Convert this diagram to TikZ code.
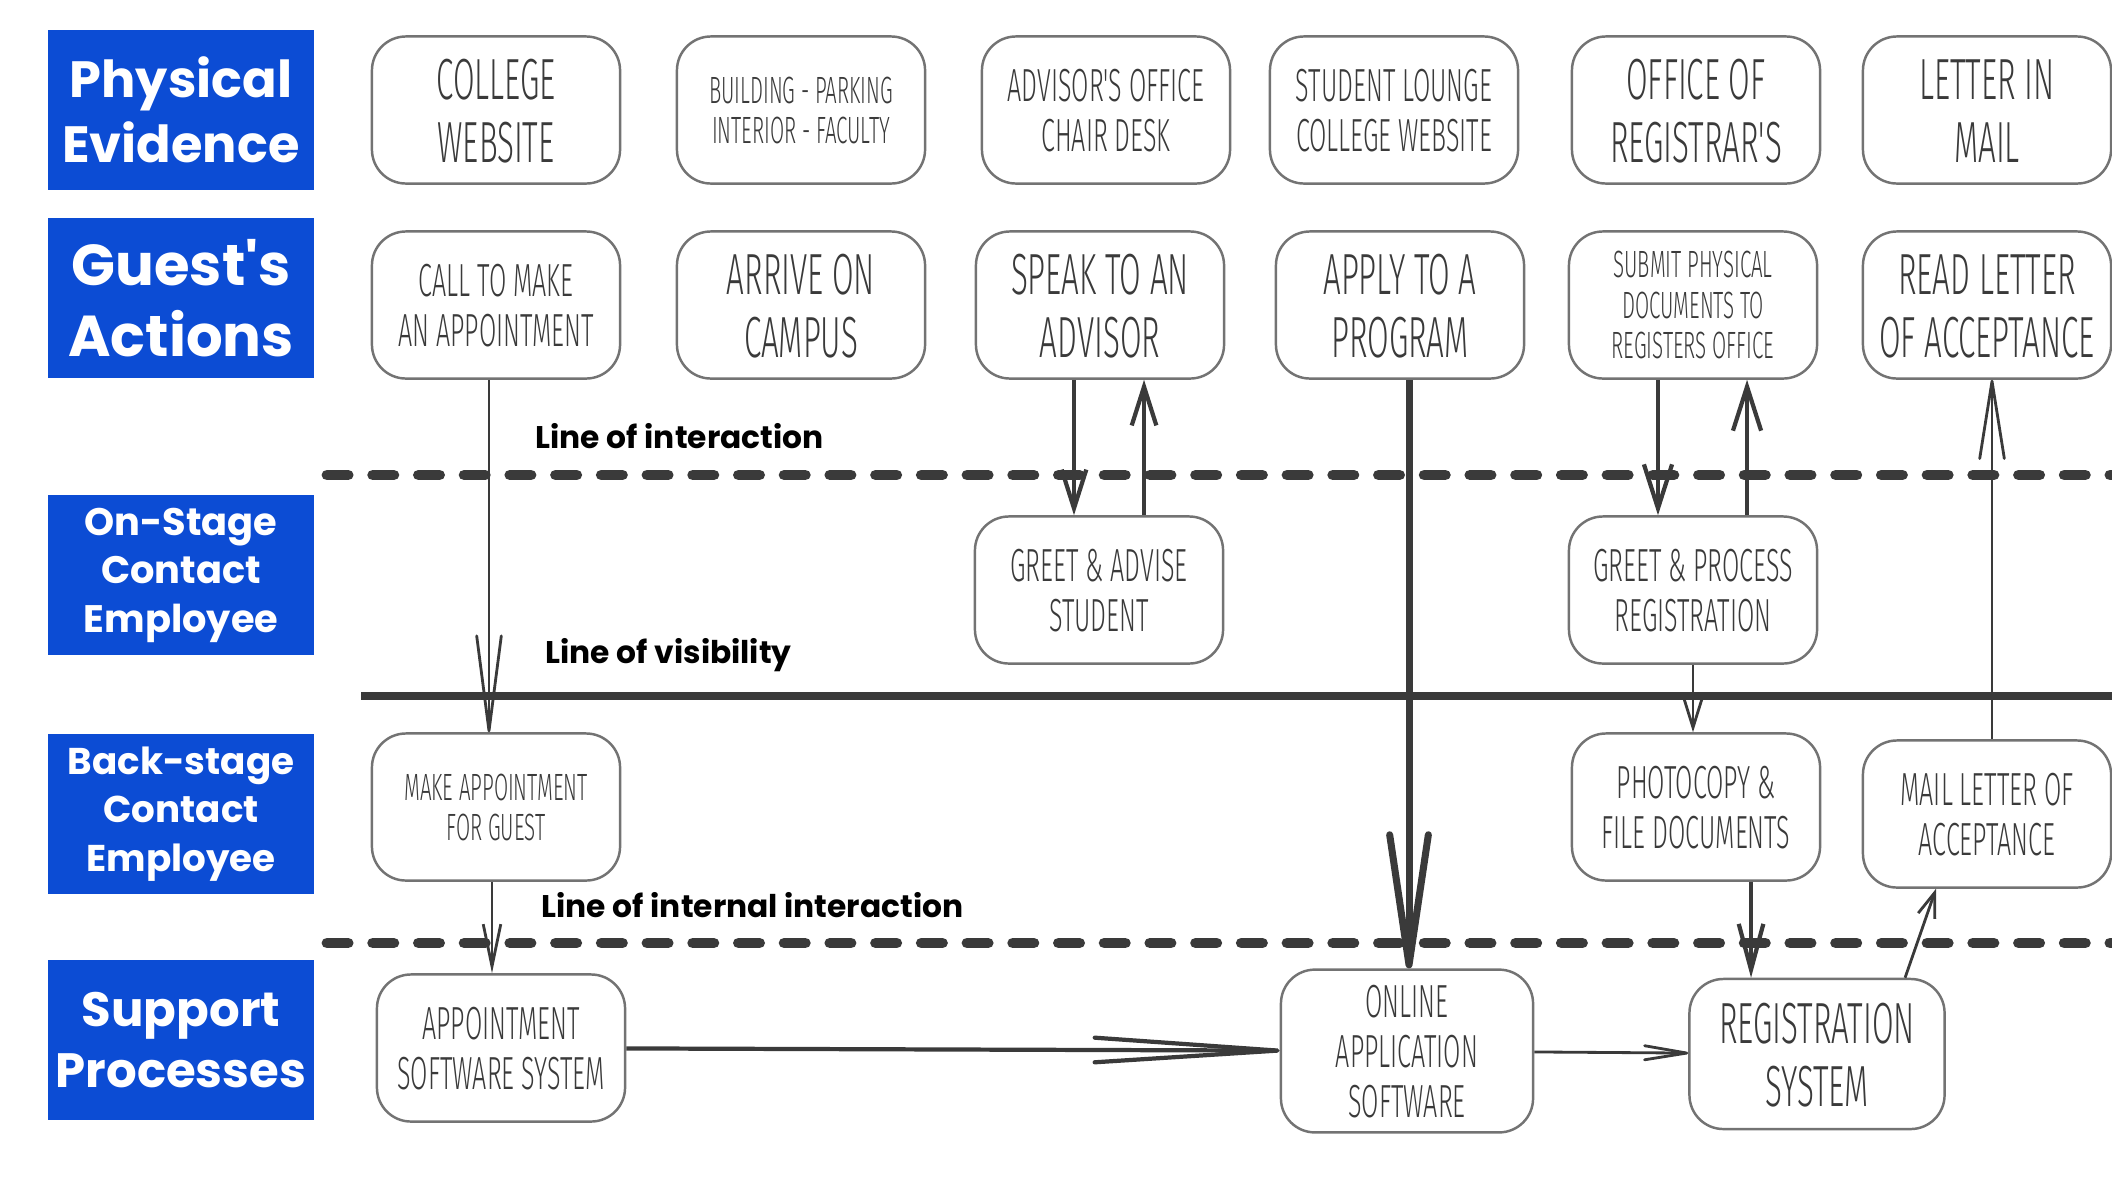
\documentclass[tikz,border=0pt]{standalone}
\usepackage{fontspec}
\usepackage{graphicx}
\usetikzlibrary{arrows.meta}
\newfontfamily\lanefont{Poppins}
\newfontfamily\boxfont{Fira Sans Light}
\definecolor{laneblue}{RGB}{12,76,212}
\definecolor{inkgray}{RGB}{58,58,58}
\newcommand{\lignes}[1]{\raisebox{0pt}[\dimexpr\height+0.28em\relax][\depth]{\scalebox{0.54}[1]{\begin{tabular}{@{}c@{}}#1\end{tabular}}}}

\begin{document}
\begin{tikzpicture}[x=0.01cm,y=-0.01cm]

  % Styles des boites
  \tikzstyle{lane} = [fill=laneblue, text=white, minimum width=2.66cm, minimum height=1.6cm, align=center, inner sep=0pt]
  \tikzstyle{stepbox} = [draw=black!55, line width=0.7pt, rounded corners=0.34cm, fill=white, minimum width=2.48cm, minimum height=1.47cm, text=inkgray, inner sep=0pt]
  \tikzstyle{bigtxt} = [font=\boxfont\fontsize{16.5}{18}\selectfont]
  \tikzstyle{midtxt} = [font=\boxfont\fontsize{13.2}{14.2}\selectfont]
  \tikzstyle{smalltxt} = [font=\boxfont\fontsize{10.8}{11.5}\selectfont]
  \tikzstyle{linelabel} = [anchor=west, inner sep=0pt, font=\lanefont\bfseries\fontsize{8.9}{11}\selectfont]

  % Style des lignes et des fleches
  \tikzstyle{sepdash} = [draw=inkgray, line width=3.1pt, line cap=round, dash pattern=on 6pt off 7pt]
  \tikzstyle{sepsolid} = [draw=inkgray, line width=2.3pt]
  \tikzstyle{fleche} = [draw=inkgray, line width=1.2pt]
  \tikzstyle{finefleche} = [draw=inkgray, line width=0.8pt]
  \tikzstyle{grossefleche} = [draw=inkgray, line width=2pt]

  \useasboundingbox (0,0) rectangle (2112,1184);

  % Lignes de separation
  \coordinate (inter-l) at (327,475);
  \coordinate (inter-r) at (2120,475);
  \coordinate (vis-l) at (361,696);
  \coordinate (vis-r) at (2120,696);
  \coordinate (intern-l) at (327,943);
  \coordinate (intern-r) at (2120,943);
  \draw[sepdash] (inter-l) -- (inter-r);
  \draw[sepsolid] (vis-l) -- (vis-r);
  \draw[sepdash] (intern-l) -- (intern-r);

  \node[linelabel] (lbl-inter) at (535,436) {Line of interaction};
  \node[linelabel] (lbl-vis) at (545,655) {Line of visibility};
  \node[linelabel] (lbl-intern) at (541,905) {Line of internal interaction};

  % Colonne des titres
  \node[lane, font=\lanefont\bfseries\fontsize{14.5}{18.4}\selectfont] (physical) at (181,110) {Physical\\Evidence};
  \node[lane, font=\lanefont\bfseries\fontsize{16.4}{20}\selectfont] (guest) at (181,298) {Guest\textquotesingle s\\Actions};
  \node[lane, font=\lanefont\bfseries\fontsize{10.9}{13.8}\selectfont] (onstage) at (181,575) {On-Stage\\Contact\\Employee};
  \node[lane, font=\lanefont\bfseries\fontsize{10.6}{13.8}\selectfont] (backstage) at (181,814) {Back-stage\\Contact\\Employee};
  \node[lane, font=\lanefont\bfseries\fontsize{13.7}{17.6}\selectfont] (support) at (181,1040) {Support\\Processes};

  % Preuves physiques
  \node[stepbox, bigtxt] (college) at (496,110) {\lignes{COLLEGE\\WEBSITE}};
  \node[stepbox, smalltxt] (building) at (801,110) {\lignes{BUILDING - PARKING\\INTERIOR - FACULTY}};
  \node[stepbox, midtxt] (advoffice) at (1106,110) {\lignes{ADVISOR'S OFFICE\\CHAIR DESK}};
  \node[stepbox, midtxt] (lounge) at (1394,110) {\lignes{STUDENT LOUNGE\\COLLEGE WEBSITE}};
  \node[stepbox, bigtxt] (regoffice) at (1696,110) {\lignes{OFFICE OF\\REGISTRAR'S}};
  \node[stepbox, bigtxt] (lettermail) at (1987,110) {\lignes{LETTER IN\\MAIL}};

  % Actions du client
  \node[stepbox, midtxt] (call) at (496,305) {\lignes{CALL TO MAKE\\AN APPOINTMENT}};
  \node[stepbox, bigtxt] (arrive) at (801,305) {\lignes{ARRIVE ON\\CAMPUS}};
  \node[stepbox, bigtxt] (speak) at (1100,305) {\lignes{SPEAK TO AN\\ADVISOR}};
  \node[stepbox, bigtxt] (apply) at (1400,305) {\lignes{APPLY TO A\\PROGRAM}};
  \node[stepbox, smalltxt] (submit) at (1693,305) {\lignes{SUBMIT PHYSICAL\\DOCUMENTS TO\\REGISTERS OFFICE}};
  \node[stepbox, bigtxt] (readletter) at (1987,305) {\lignes{READ LETTER\\OF ACCEPTANCE}};

  % Employes en contact
  \node[stepbox, midtxt] (greetadv) at (1099,590) {\lignes{GREET \& ADVISE\\STUDENT}};
  \node[stepbox, midtxt] (greetproc) at (1693,590) {\lignes{GREET \& PROCESS\\REGISTRATION}};

  % Coulisses
  \node[stepbox, smalltxt] (makeappt) at (496,807) {\lignes{MAKE APPOINTMENT\\FOR GUEST}};
  \node[stepbox, midtxt] (photocopy) at (1696,807) {\lignes{PHOTOCOPY \&\\FILE DOCUMENTS}};
  \node[stepbox, midtxt] (mailletter) at (1987,814) {\lignes{MAIL LETTER OF\\ACCEPTANCE}};

  % Processus de support
  \node[stepbox, midtxt] (apptsw) at (501,1048) {\lignes{APPOINTMENT\\SOFTWARE SYSTEM}};
  \node[stepbox, midtxt, minimum width=2.52cm, minimum height=1.55cm] (online) at (1407,1051) {\lignes{ONLINE\\APPLICATION\\SOFTWARE}};
  \node[stepbox, bigtxt, minimum width=2.55cm, minimum height=1.5cm] (regsys) at (1817,1054) {\lignes{REGISTRATION\\SYSTEM}};

  % Fleches
  \draw[finefleche, -{Straight Barb[length=27pt,width=7pt,round]}] ([xshift=-0.07cm]call.south) -- ([xshift=-0.07cm]call.south |- makeappt.north);
  \draw[finefleche, -{Straight Barb[length=12pt,width=5pt]}] ([xshift=-0.04cm]makeappt.south) -- ([xshift=-0.04cm]makeappt.south |- apptsw.north);
  \draw[fleche, -{Straight Barb[length=11pt,width=7pt]}] ([xshift=-0.26cm]speak.south) -- ([xshift=-0.26cm]speak.south |- greetadv.north);
  \draw[fleche, -{Straight Barb[length=11pt,width=7pt]}] ([xshift=0.45cm]greetadv.north) -- ([xshift=0.45cm]greetadv.north |- speak.south);
  \draw[grossefleche, -{Straight Barb[length=37pt,width=11pt,round]}] ([xshift=0.09cm]apply.south) -- ([xshift=0.09cm]apply.south |- online.north);
  \draw[fleche, -{Straight Barb[length=12.5pt,width=8pt]}] ([xshift=-0.35cm]submit.south) -- ([xshift=-0.35cm]submit.south |- greetproc.north);
  \draw[fleche, -{Straight Barb[length=12.5pt,width=8pt]}] ([xshift=0.54cm]greetproc.north) -- ([xshift=0.54cm]greetproc.north |- submit.south);
  \draw[finefleche, -{Straight Barb[length=8pt,width=5pt]}] (greetproc.south) -- (greetproc.south |- photocopy.north);
  \draw[fleche, -{Straight Barb[length=13pt,width=7pt]}] ([xshift=0.55cm]photocopy.south) -- ([xshift=0.55cm]photocopy.south |- regsys.north);
  \draw[finefleche, -{Straight Barb[length=7pt,width=5pt]}] ([xshift=0.88cm]regsys.north) -- ([xshift=-0.51cm]mailletter.south);
  \draw[finefleche, -{Straight Barb[length=22pt,width=7pt,round]}] ([xshift=0.05cm]mailletter.north) -- ([xshift=0.05cm]mailletter.north |- readletter.south);
  \draw[fleche, -{Straight Barb[length=52pt,width=7pt,round]}] (apptsw) -- (online);
  \draw[finefleche, -{Straight Barb[length=12pt,width=4pt,round]}] (online) -- (regsys);

\end{tikzpicture}
\end{document}
